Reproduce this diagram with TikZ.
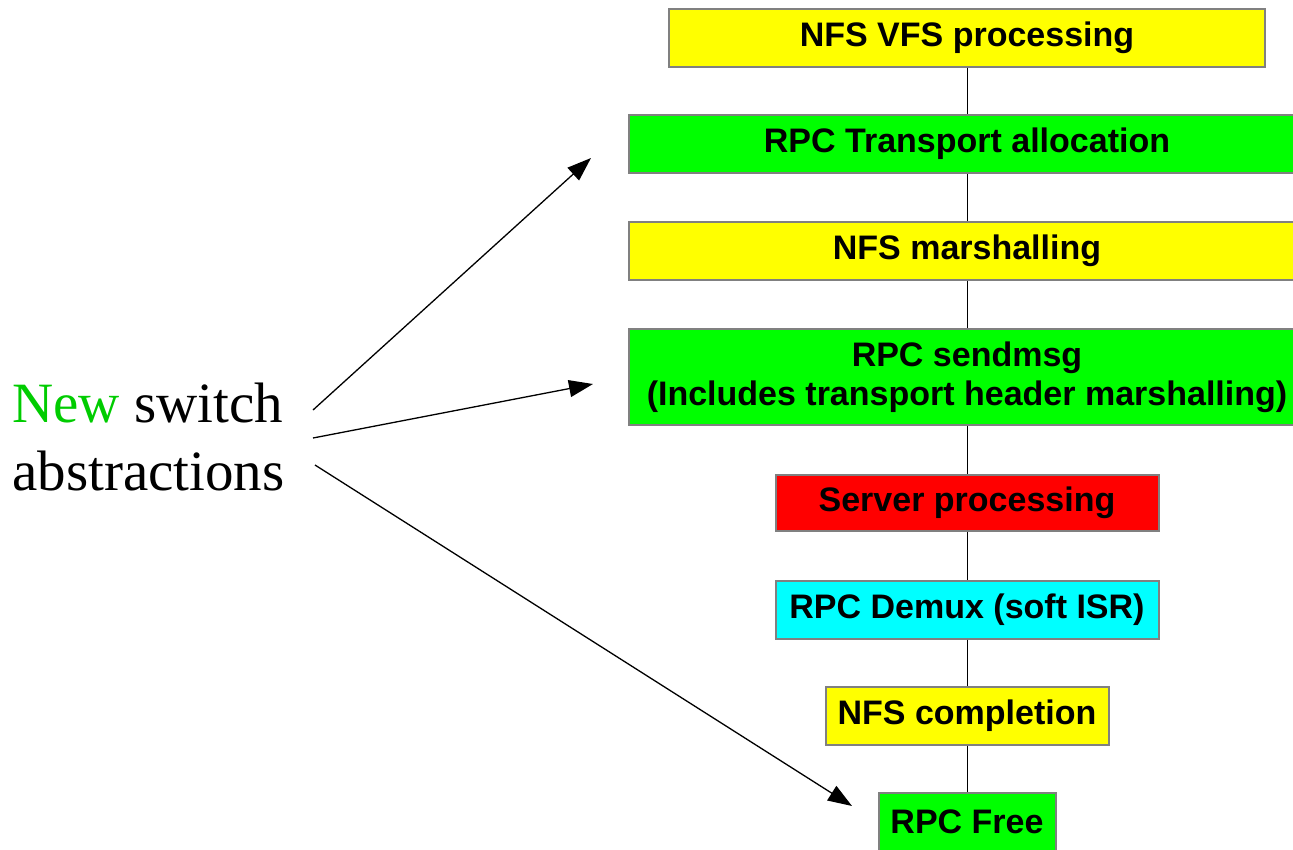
\documentclass[tikz,border=0pt]{standalone}
\usepackage{fontspec}
\setmainfont{Liberation Serif}
\setsansfont{Liberation Sans}
\usepackage{tikz}
\usetikzlibrary{arrows.meta,positioning}

\definecolor{boxgray}{RGB}{128,128,128}
\definecolor{newgreen}{RGB}{0,204,0}
\definecolor{boxyellow}{RGB}{255,255,0}
\definecolor{boxgreen}{RGB}{0,255,0}
\definecolor{boxred}{RGB}{255,0,0}
\definecolor{boxcyan}{RGB}{0,255,255}

\tikzset{
  stage/.style={draw=boxgray,line width=2pt,text=black,inner sep=0pt,
    minimum height=58pt,align=center,
    font=\sffamily\bfseries\fontsize{34}{39}\selectfont},
  pointer/.style={line width=1.3pt,-{Triangle[length=24pt,width=17pt]}}
}

\begin{document}
\begin{tikzpicture}[x=1pt,y=-1pt]
\useasboundingbox (0,0) rectangle (1293,849);
\clip (0,0) rectangle (1293,849);

\node[stage,fill=boxyellow,minimum width=596pt] (vfs) at (967,37.5) {NFS VFS processing};
\node[stage,fill=boxgreen,minimum width=676pt] (alloc) at (967,144) {RPC Transport allocation};
\node[stage,fill=boxyellow,minimum width=676pt] (marsh) at (967,251) {NFS marshalling};
\node[stage,fill=boxgreen,minimum width=676pt,minimum height=96pt] (send) at (967,377) {RPC sendmsg\\(Includes transport header marshalling)};
\node[stage,fill=boxred,minimum width=383pt,minimum height=56pt] (server) at (967,503) {Server processing};
\node[stage,fill=boxcyan,minimum width=383pt] (demux) at (967,609.5) {RPC Demux (soft ISR)};
\node[stage,fill=boxyellow,minimum width=283pt] (compl) at (967,715.5) {NFS completion};
\node[stage,fill=boxgreen,minimum width=177pt] (free) at (967,822) {RPC Free};
\draw[line width=1pt] (vfs)--(alloc) (alloc)--(marsh) (marsh)--(send) (send)--(server) (server)--(demux) (demux)--(compl) (compl)--(free);

\node[anchor=base west,align=left,inner sep=0pt,font=\fontsize{57}{68}\selectfont] (abs) at (12,490) {\textcolor{newgreen}{New} switch\\abstractions};

\coordinate (s1) at (313,410);
\coordinate (s2) at (313,438);
\coordinate (s3) at (315,465);
\coordinate (t1) at (591,158);
\coordinate (t2) at (593,384);
\coordinate (t3) at (852,806);
\draw[pointer] (s1)--(t1);
\draw[pointer] (s2)--(t2);
\draw[pointer] (s3)--(t3);
\end{tikzpicture}
\end{document}
